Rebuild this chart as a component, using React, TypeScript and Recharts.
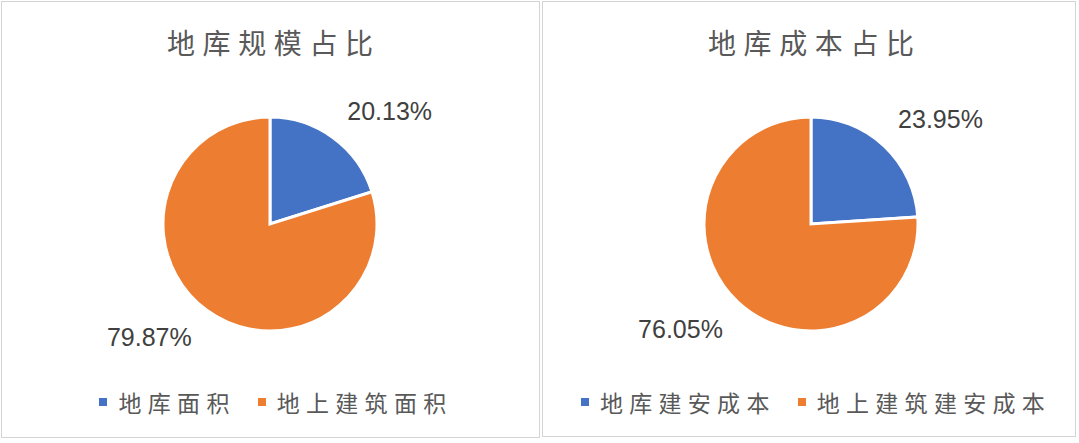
import React from 'react';
import { PieChart, Pie, Cell, Legend } from 'recharts';

const titles = ['地库规模占比', '地库成本占比'];
const scaleCategories = ['地库面积', '地上建筑面积'];
const scaleValues = [20.13, 79.87];
const costCategories = ['地库建安成本', '地上建筑建安成本'];
const costValues = [23.95, 76.05];
const sliceColors = ['#4472C4', '#ED7D31'];

const CJK = "'Noto Sans CJK SC', 'Noto Sans', sans-serif";
const NUM = "'Liberation Sans', Arial, sans-serif";

const RAD = Math.PI / 180;

const renderLabel = (props: any) => {
  const { cx, cy, midAngle, outerRadius, value } = props;
  const ex = cx + outerRadius * Math.cos(-midAngle * RAD);
  const ey = cy + outerRadius * Math.sin(-midAngle * RAD);
  const right = ex >= cx;
  const upper = ey < cy;
  const x = right ? ex + 14 : ex - 15;
  const y = upper ? ey - 18 : ey + 36;
  return (
    <text
      x={x}
      y={y}
      textAnchor={right ? 'start' : 'end'}
      fill="#404040"
      fontFamily={NUM}
      fontSize={25}
    >
      {`${Number(value).toFixed(2)}%`}
    </text>
  );
};

const makeLegend = (order: string[]) => (props: any) => {
  const payload = [...(props.payload || [])].sort(
    (a: any, b: any) => order.indexOf(a.value) - order.indexOf(b.value)
  );
  return (
    <div
      style={{
        display: 'flex',
        justifyContent: 'center',
        alignItems: 'center',
        paddingLeft: 12,
        fontFamily: CJK,
        fontSize: 23,
        lineHeight: '28px',
        color: '#595959',
      }}
    >
      {payload.map((entry: any, i: number) => (
        <div
          key={`leg-${i}`}
          style={{
            display: 'flex',
            alignItems: 'center',
            marginRight: i < payload.length - 1 ? 22 : 0,
          }}
        >
          <span
            style={{
              display: 'inline-block',
              width: 8,
              height: 8,
              background: entry.color,
              marginRight: 11,
            }}
          />
          <span style={{ letterSpacing: 6.3, whiteSpace: 'nowrap' }}>{entry.value}</span>
        </div>
      ))}
    </div>
  );
};

type PanelProps = {
  title: string;
  names: string[];
  values: number[];
  left: number;
  width: number;
};

const Panel = ({ title, names, values, left, width }: PanelProps) => {
  const data = names.map((n, i) => ({ name: n, value: values[i] }));
  return (
    <div style={{ position: 'absolute', left, top: 0, width, height: 440 }}>
      <PieChart width={width} height={440} margin={{ top: 0, right: 0, bottom: 0, left: 0 }}>
        <text
          x={270 + 3.8}
          y={54}
          textAnchor="middle"
          fill="#595959"
          fontFamily={CJK}
          fontSize={28}
          letterSpacing={7.6}
        >
          {title}
        </text>
        <Pie
          data={data}
          dataKey="value"
          nameKey="name"
          cx={270}
          cy={224}
          outerRadius={107}
          startAngle={90}
          endAngle={-270}
          stroke="#ffffff"
          strokeWidth={3}
          label={renderLabel}
          labelLine={false}
          isAnimationActive={false}
        >
          {data.map((d, i) => (
            <Cell key={`c-${i}`} fill={sliceColors[i]} />
          ))}
        </Pie>
        <Legend
          content={makeLegend(names)}
          wrapperStyle={{ left: 0, top: 388, bottom: 'auto', width: width, height: 28 }}
        />
      </PieChart>
    </div>
  );
};

export default function App() {
  return (
    <div
      style={{
        position: 'absolute',
        left: 0,
        top: 0,
        width: 1079,
        height: 443,
        background: '#ffffff',
        overflow: 'hidden',
      }}
    >
      <div
        style={{
          position: 'absolute',
          left: 1,
          top: 1,
          width: 539,
          height: 437,
          boxSizing: 'border-box',
          border: '1px solid #d4d4d4',
        }}
      />
      <div
        style={{
          position: 'absolute',
          left: 542,
          top: 1,
          width: 534,
          height: 436,
          boxSizing: 'border-box',
          border: '1px solid #d4d4d4',
        }}
      />
      <Panel title={titles[0]} names={scaleCategories} values={scaleValues} left={0} width={540} />
      <Panel title={titles[1]} names={costCategories} values={costValues} left={541} width={538} />
    </div>
  );
}
